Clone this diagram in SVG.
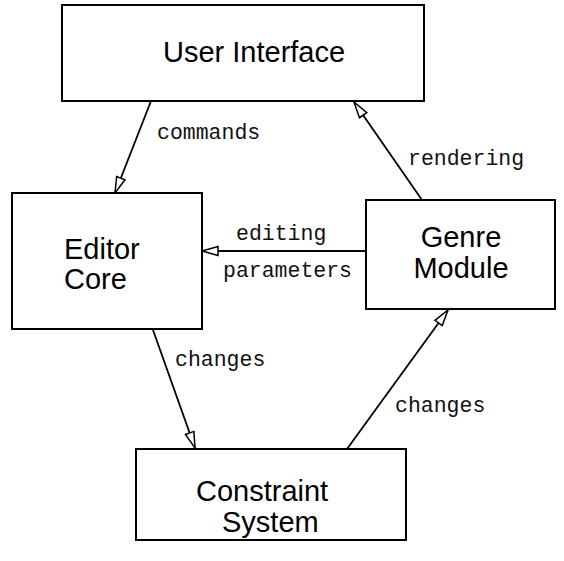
<svg xmlns="http://www.w3.org/2000/svg" width="564" height="561" viewBox="0 0 564 561">
<style>
.box{fill:#fff;stroke:#000;stroke-width:2}
.lbl{font-family:"Liberation Sans",Arial,sans-serif;font-size:29px;fill:#000}
.mono{font-family:"Liberation Mono","Courier New",monospace;font-size:21.5px;fill:#111}
.edge{stroke:#000;stroke-width:1.8;fill:none;marker-end:url(#ah)}
</style>
<defs>
<marker id="ah" markerUnits="userSpaceOnUse" markerWidth="22" markerHeight="14" refX="19" refY="7" orient="auto" overflow="visible">
<path d="M3,2.5 L19,7 L3,11.5 Z" fill="#fff" stroke="#000" stroke-width="1.5"/>
</marker>
</defs>
<rect width="564" height="561" fill="#fff"/>
<g id="edges">
<line class="edge" x1="151" y1="101" x2="115" y2="193"/>
<line class="edge" x1="422" y1="200" x2="354" y2="102"/>
<line class="edge" x1="366" y1="251" x2="202" y2="251"/>
<line class="edge" x1="153" y1="330" x2="195" y2="448"/>
<line class="edge" x1="347" y1="449" x2="448" y2="310"/>
<text class="mono" x="157" y="139">commands</text>
<text class="mono" x="408" y="165">rendering</text>
<text class="mono" x="236" y="240">editing</text>
<text class="mono" x="223" y="277">parameters</text>
<text class="mono" x="175" y="366">changes</text>
<text class="mono" x="395" y="412">changes</text>
</g>
<g id="user-interface">
<rect class="box" x="62" y="5" width="362" height="96"/>
<text class="lbl" x="163" y="62">User Interface</text>
</g>
<g id="editor-core">
<rect class="box" x="12" y="193" width="190" height="136"/>
<text class="lbl" x="64" y="259">Editor</text>
<text class="lbl" x="64" y="289">Core</text>
</g>
<g id="genre-module">
<rect class="box" x="366" y="200" width="189" height="109"/>
<text class="lbl" x="461" y="247" text-anchor="middle">Genre</text>
<text class="lbl" x="461" y="278" text-anchor="middle">Module</text>
</g>
<g id="constraint-system">
<rect class="box" x="136" y="449" width="270" height="91"/>
<text class="lbl" x="196" y="501">Constraint</text>
<text class="lbl" x="222" y="532">System</text>
</g>
</svg>
